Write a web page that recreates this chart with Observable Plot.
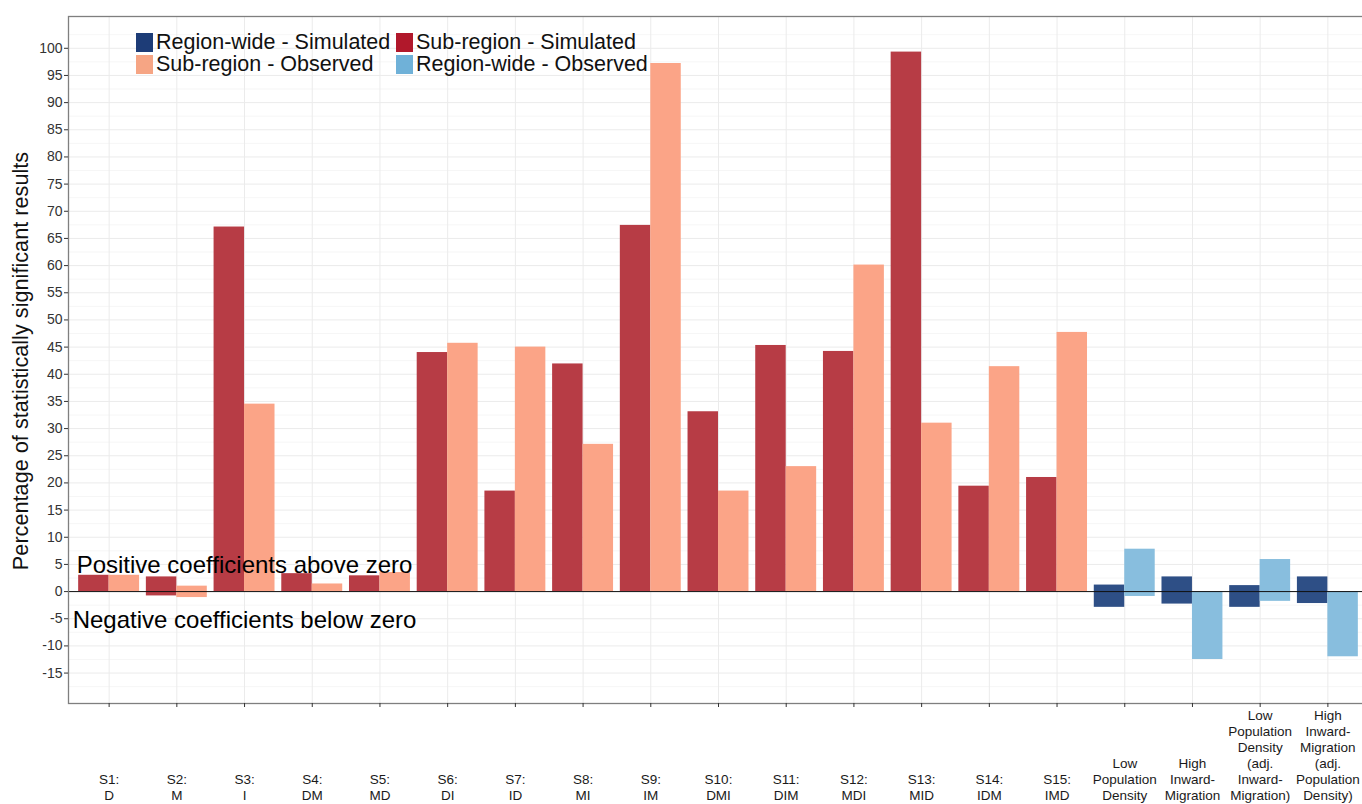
<!DOCTYPE html>
<html><head><meta charset="utf-8">
<script src="https://cdn.jsdelivr.net/npm/d3@7"></script>
<script src="https://cdn.jsdelivr.net/npm/@observablehq/plot@0.6"></script>
<style>
body{margin:0;background:#fff;font-family:"Liberation Sans",Arial,sans-serif;}
#wrap{position:relative;width:1362px;height:804px;overflow:hidden;}
#legend{position:absolute;left:136px;top:33px;display:grid;grid-template-columns:260px auto;row-gap:3px;font-size:21.5px;line-height:19px;color:#111;}
.item{display:flex;align-items:center;white-space:nowrap;}
.sw{width:17px;height:19px;margin-right:3px;flex:none;}
</style></head><body><div id="wrap"></div>
<script>
// ---- data ----
const categories = ["S1:\nD","S2:\nM","S3:\nI","S4:\nDM","S5:\nMD","S6:\nDI","S7:\nID","S8:\nMI","S9:\nIM","S10:\nDMI","S11:\nDIM","S12:\nMDI","S13:\nMID","S14:\nIDM","S15:\nIMD",
  "Low\nPopulation\nDensity","High\nInward-\nMigration","Low\nPopulation\nDensity\n(adj.\nInward-\nMigration)","High\nInward-\nMigration\n(adj.\nPopulation\nDensity)"];
const scopes = ["Sub-region","Sub-region","Sub-region","Sub-region","Sub-region","Sub-region","Sub-region","Sub-region","Sub-region","Sub-region","Sub-region","Sub-region","Sub-region","Sub-region","Sub-region",
  "Region-wide","Region-wide","Region-wide","Region-wide"];
const simulatedPos = [3.0, 2.7, 67.1, 3.3, 2.9, 44.0, 18.5, 41.9, 67.4, 33.1, 45.3, 44.2, 99.3, 19.4, 21.0, 1.2, 2.7, 1.1, 2.7];
const simulatedNeg = [0, -0.8, 0, 0, 0, 0, 0, 0, 0, 0, 0, 0, 0, 0, 0, -2.9, -2.3, -2.9, -2.2];
const observedPos  = [3.0, 1.0, 34.5, 1.4, 3.5, 45.7, 45.0, 27.1, 97.2, 18.5, 23.0, 60.1, 31.0, 41.4, 47.7, 7.8, 0, 5.9, 0];
const observedNeg  = [0, -1.1, 0, 0, 0, 0, 0, 0, 0, 0, 0, 0, 0, 0, 0, -0.9, -12.5, -1.8, -12.0];
const seriesNames = ["Region-wide - Simulated","Sub-region - Simulated","Sub-region - Observed","Region-wide - Observed"];
const barColors = ["#2E4F86","#B73C45","#FBA487","#88BEDE"];
const legendColors = ["#1D3C77","#B1182B","#F6A584","#6FB1D8"];
const yTicks = [-15,-10,-5,0,5,10,15,20,25,30,35,40,45,50,55,60,65,70,75,80,85,90,95,100];
const yMinor = [-17.5,-12.5,-7.5,-2.5,2.5,7.5,12.5,17.5,22.5,27.5,32.5,37.5,42.5,47.5,52.5,57.5,62.5,67.5,72.5,77.5,82.5,87.5,92.5,97.5,102.5];
const yTitle = "Percentage of statistically significant results";
const notes = [
  {category: categories[2], y: 4.9, label: "Positive coefficients above zero"},
  {category: categories[2], y: -5.2, label: "Negative coefficients below zero"}
];

// ---- table ----
const rows = [];
categories.forEach((c, i) => {
  rows.push({category: c, type: "Simulated", series: scopes[i] + " - Simulated", y1: simulatedNeg[i], y2: simulatedPos[i]});
  rows.push({category: c, type: "Observed", series: scopes[i] + " - Observed", y1: observedNeg[i], y2: observedPos[i]});
});

const W = 1362, H = 804, mL = 68, mR = -6, mT = 16, mB = 101;
const pIn = 0.1, pOut = 0.15;
const step = (W - mR - mL) / (categories.length - pIn + 2 * pOut);
const half = step * (1 - pIn) / 2;

const chart = Plot.plot({
  width: W, height: H,
  marginLeft: mL, marginRight: mR, marginTop: mT, marginBottom: mB,
  style: {fontFamily: "'Liberation Sans', Arial, sans-serif", background: "#fff", overflow: "hidden"},
  x: {domain: categories, paddingInner: pIn, paddingOuter: pOut, round: false, label: null},
  y: {domain: [-20.6, 105.85], label: null},
  color: {domain: seriesNames, range: barColors},
  marks: [
    Plot.ruleY(yMinor, {stroke: "#F4F4F4", strokeWidth: 0.8}),
    Plot.ruleY(yTicks, {stroke: "#EBEBEB", strokeWidth: 1}),
    Plot.ruleX(categories, {x: d => d, stroke: "#EBEBEB", strokeWidth: 1}),
    Plot.barY(rows.filter(d => d.type === "Simulated"), {x: "category", y1: "y1", y2: "y2", fill: "series", insetLeft: 0, insetRight: half}),
    Plot.barY(rows.filter(d => d.type === "Observed"), {x: "category", y1: "y1", y2: "y2", fill: "series", insetLeft: half, insetRight: 0}),
    Plot.ruleY([0], {stroke: "#111", strokeWidth: 1}),
    Plot.frame({stroke: "#7F7F7F", strokeWidth: 1.3}),
    Plot.axisY({ticks: yTicks, tickFormat: d => String(d), tickSize: 4, tickPadding: 2, fontSize: 14, color: "#333", label: null}),
    Plot.axisX({tickSize: 4, tickFormat: () => "", label: null, color: "#333"}),
    Plot.text(categories, {x: d => d, text: d => d, frameAnchor: "bottom", lineAnchor: "bottom", dy: 96, fontSize: 13.5, lineHeight: 1.18, fill: "#1a1a1a"}),
    Plot.text([yTitle], {frameAnchor: "left", textAnchor: "middle", rotate: -90, dx: -47, dy: 1, fontSize: 21.7, fill: "#111"}),
    Plot.text(notes, {x: "category", y: "y", text: "label", fontSize: 24, fill: "#000"})
  ]
});

const wrap = document.getElementById("wrap");
wrap.appendChild(chart);
const legend = document.createElement("div");
legend.id = "legend";
const legendOrder = [0, 1, 2, 3];
legendOrder.forEach(k => {
  const it = document.createElement("div");
  it.className = "item";
  const sw = document.createElement("span");
  sw.className = "sw";
  sw.style.background = legendColors[k];
  const tx = document.createElement("span");
  tx.textContent = seriesNames[k];
  it.appendChild(sw); it.appendChild(tx);
  legend.appendChild(it);
});
wrap.appendChild(legend);
</script>
</body></html>
